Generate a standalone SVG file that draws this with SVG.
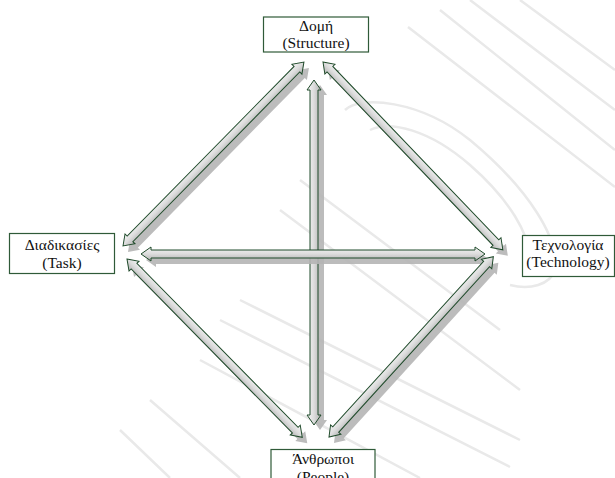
<svg xmlns="http://www.w3.org/2000/svg" xmlns:xlink="http://www.w3.org/1999/xlink" width="615" height="478" viewBox="0 0 615 478">
<style>
.box{fill:#ffffff;stroke:#2f5a38;stroke-width:1.2}
.lbl{font-family:"Liberation Serif","DejaVu Serif",serif;font-size:15.5px;fill:#111;text-anchor:middle}
.arrow{fill:url(#ag);stroke:#1f4a2a;stroke-width:1;stroke-linejoin:miter}
.shadow{fill:#b5b5b5;opacity:0.9}
.wm{fill:none;stroke:#e9e9e9;stroke-width:2.5}
</style>
<defs>
<linearGradient id="ag" x1="0" y1="0" x2="0" y2="1">
<stop offset="0" stop-color="#f6f6f6"/>
<stop offset="0.5" stop-color="#dcdcdc"/>
<stop offset="1" stop-color="#b0b0b0"/>
</linearGradient>
<path id="p1" transform="translate(123,246) rotate(-45.47)" d="M0,0 L10,-7 L10,-4 L248,-4 L248,-7 L258,0 L248,7 L248,4 L10,4 L10,7 Z"/>
<path id="p2" transform="translate(323,62) rotate(46.24)" d="M0,0 L10,-7 L10,-4 L250,-4 L250,-7 L260,0 L250,7 L250,4 L10,4 L10,7 Z"/>
<path id="p3" transform="translate(314,425) rotate(-90)" d="M0,0 L10,-7 L10,-4 L335,-4 L335,-7 L345,0 L335,7 L335,4 L10,4 L10,7 Z"/>
<path id="p4" transform="translate(141,254)" d="M0,0 L10,-7 L10,-4 L334,-4 L334,-7 L344,0 L334,7 L334,4 L10,4 L10,7 Z"/>
<path id="p5" transform="translate(127,259) rotate(45.49)" d="M0,0 L10,-7 L10,-4 L240,-4 L240,-7 L250,0 L240,7 L240,4 L10,4 L10,7 Z"/>
<path id="p6" transform="translate(329,437) rotate(-47.66)" d="M0,0 L10,-7 L10,-4 L234,-4 L234,-7 L244,0 L234,7 L234,4 L10,4 L10,7 Z"/>
</defs>
<rect width="615" height="478" fill="#ffffff"/>
<g id="watermark">
<path class="wm" d="M408,27 L615,187 M440,10 L615,150 M470,0 L615,110 M520,0 L615,70"/>
<path class="wm" d="M345,110 C360,95 420,100 470,140 C530,190 560,240 555,270 C550,285 530,290 510,285"/>
<path class="wm" d="M370,130 C390,120 430,130 470,165 C510,200 530,235 530,260"/>
<path class="wm" d="M220,320 L510,467 M240,300 L520,440 M280,210 L520,390 M300,180 L500,330 M200,360 L420,478 M150,400 L240,478 M120,430 L170,478"/>
</g>
<g id="connectors">
<g id="c-task-structure"><use href="#p1" class="shadow" x="5" y="6"/><use href="#p1" class="arrow"/></g>
<g id="c-structure-technology"><use href="#p2" class="shadow" x="5" y="6"/><use href="#p2" class="arrow"/></g>
<g id="c-structure-people"><use href="#p3" class="shadow" x="6" y="5"/><use href="#p3" class="arrow"/></g>
<g id="c-task-technology"><use href="#p4" class="shadow" x="5" y="6"/><use href="#p4" class="arrow"/></g>
<g id="c-task-people"><use href="#p5" class="shadow" x="5" y="6"/><use href="#p5" class="arrow"/></g>
<g id="c-people-technology"><use href="#p6" class="shadow" x="5" y="6"/><use href="#p6" class="arrow"/></g>
</g>
<g id="node-structure">
<rect class="box" x="263.5" y="17" width="105" height="35"/>
<text class="lbl" x="316" y="30.5">Δομή</text>
<text class="lbl" x="316" y="47.5">(Structure)</text>
</g>
<g id="node-task">
<rect class="box" x="9.5" y="233.5" width="105" height="40"/>
<text class="lbl" x="62" y="250">Διαδικασίες</text>
<text class="lbl" x="62" y="268">(Task)</text>
</g>
<g id="node-technology">
<rect class="box" x="522.5" y="235.5" width="92" height="41"/>
<text class="lbl" x="568" y="250">Τεχνολογία</text>
<text class="lbl" x="568" y="267">(Technology)</text>
</g>
<g id="node-people">
<rect class="box" x="271" y="449.5" width="104" height="40"/>
<text class="lbl" x="323" y="464">Άνθρωποι</text>
<text class="lbl" x="323" y="481.5">(People)</text>
</g>
</svg>
